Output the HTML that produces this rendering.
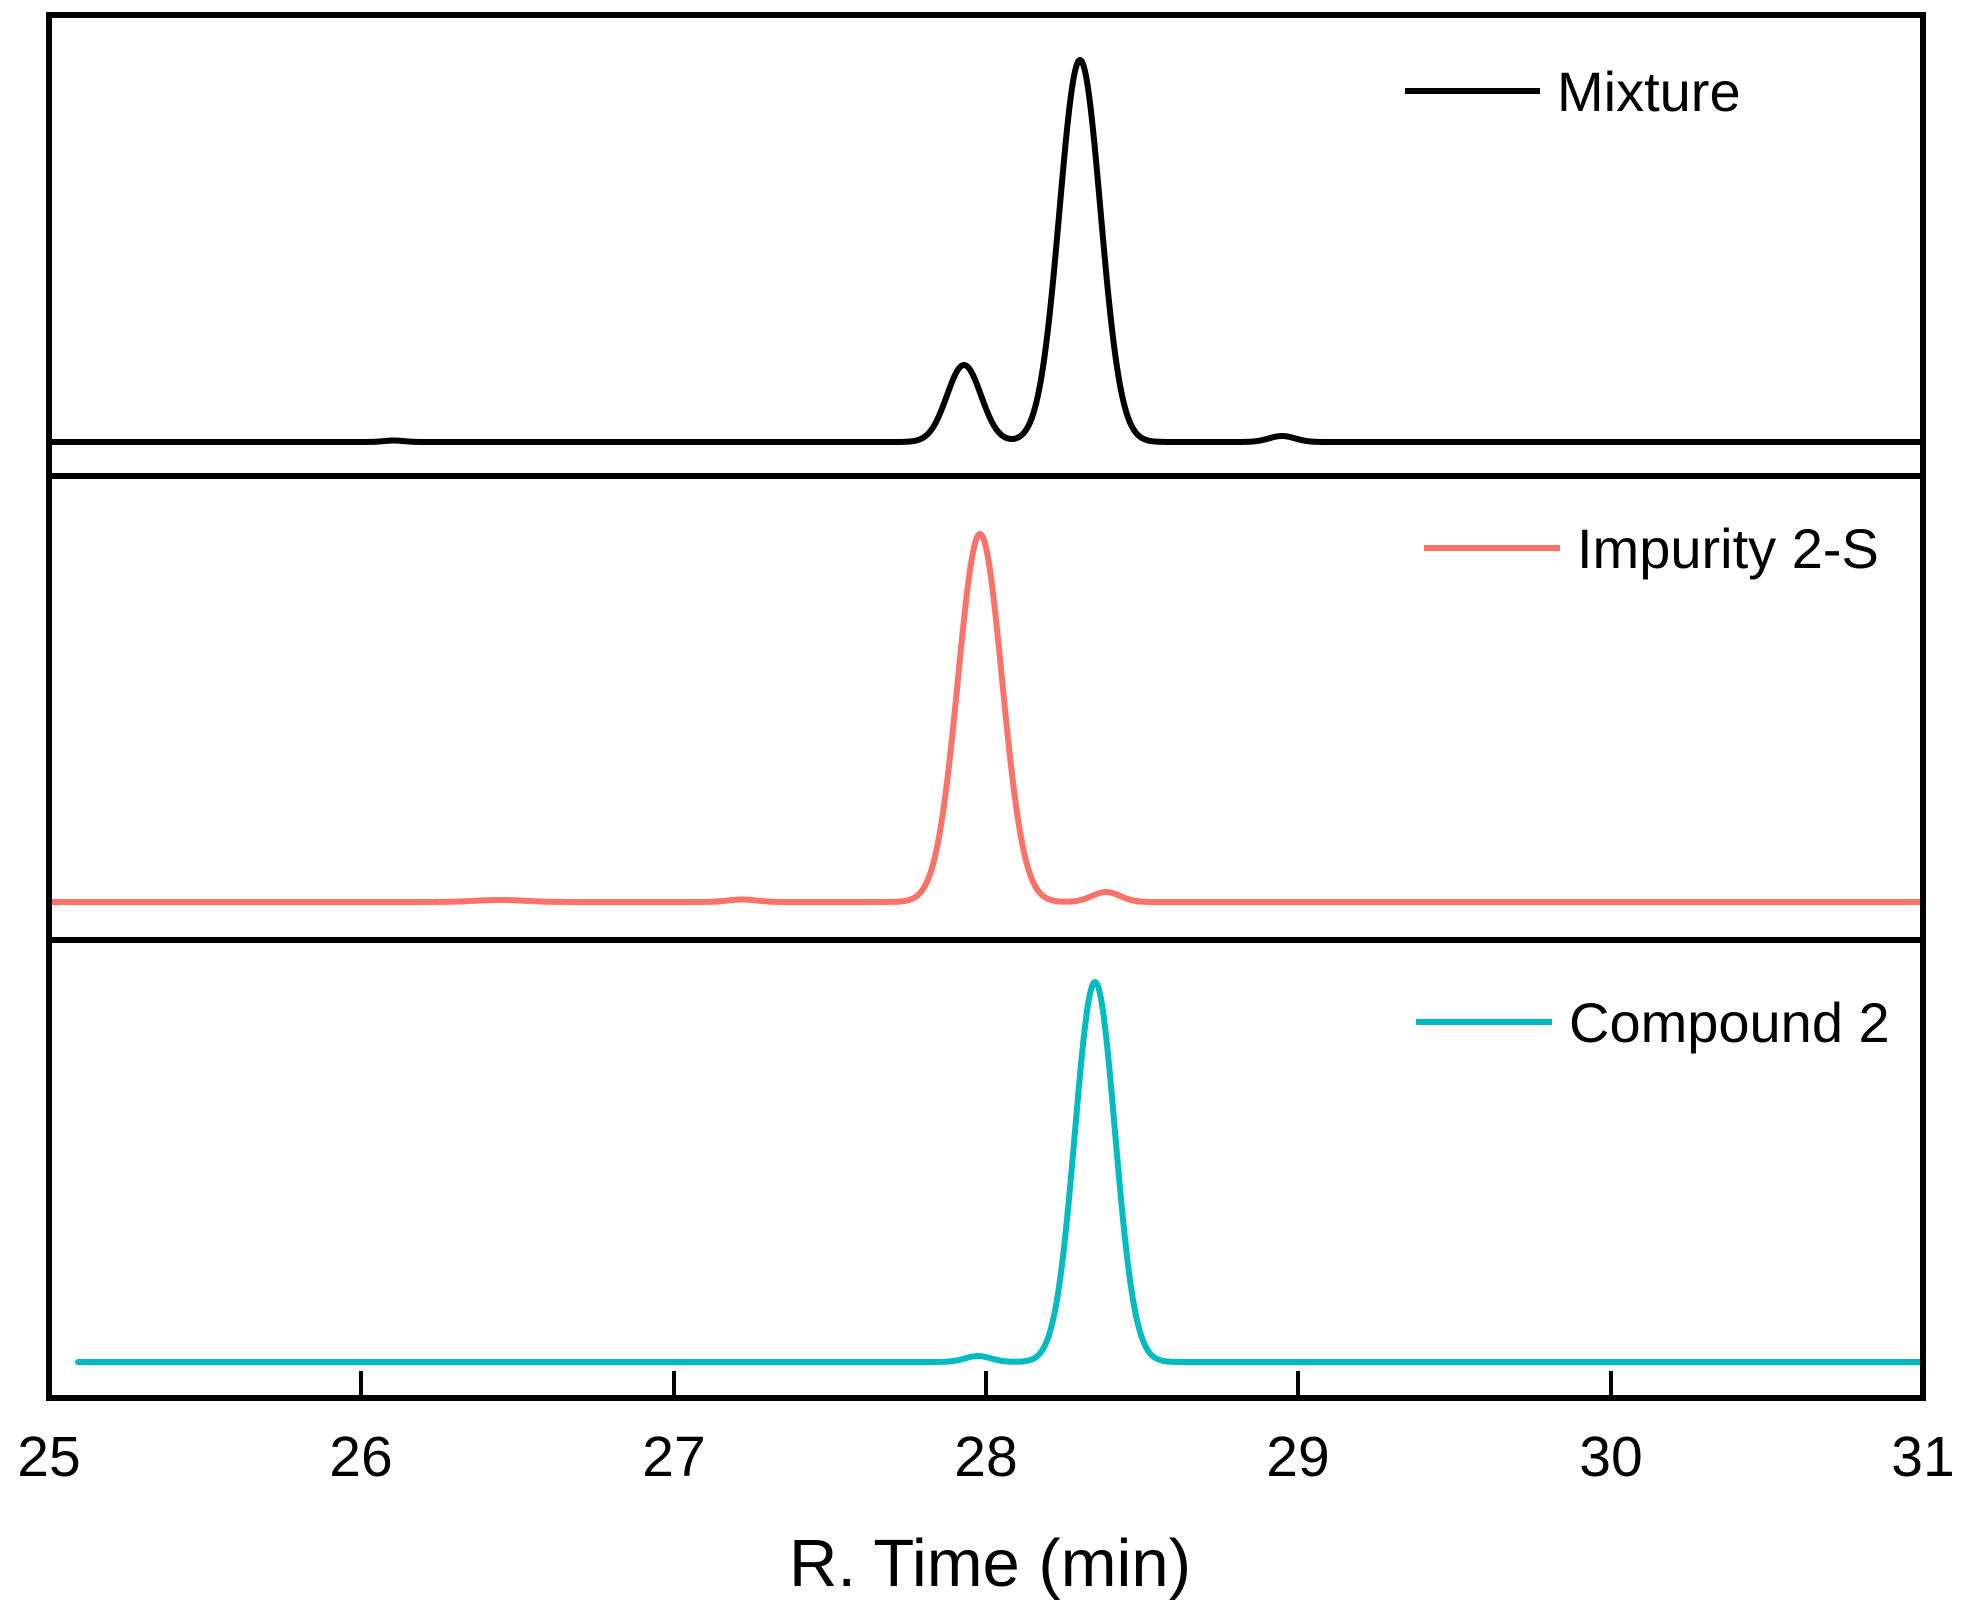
<!DOCTYPE html>
<html><head><meta charset="utf-8"><style>html,body{margin:0;padding:0;background:#fff}svg{display:block}</style></head>
<body>
<svg width="1966" height="1605" viewBox="0 0 1966 1605" xmlns="http://www.w3.org/2000/svg" font-family="Liberation Sans, sans-serif">
<rect x="0" y="0" width="1966" height="1605" fill="#fff"/>
<path id="p1" fill="none" stroke="#000" stroke-width="6" stroke-linejoin="round"/>
<path id="p2" fill="none" stroke="#fa7268" stroke-width="6" stroke-linejoin="round"/>
<path id="p3" fill="none" stroke="#00bcc0" stroke-width="6" stroke-linejoin="round" stroke-linecap="round"/>
<rect x="49" y="15" width="1874" height="1383" fill="none" stroke="#000" stroke-width="6"/>
<line x1="49" y1="476" x2="1923" y2="476" stroke="#000" stroke-width="6"/>
<line x1="49" y1="940" x2="1923" y2="940" stroke="#000" stroke-width="6"/>
<g stroke="#000" stroke-width="4">
<line x1="361" y1="1398" x2="361" y2="1371"/><line x1="674" y1="1398" x2="674" y2="1371"/>
<line x1="986" y1="1398" x2="986" y2="1371"/><line x1="1298" y1="1398" x2="1298" y2="1371"/>
<line x1="1611" y1="1398" x2="1611" y2="1371"/>
</g>
<g font-size="57" text-anchor="middle" fill="#000">
<text x="49" y="1476">25</text><text x="361" y="1476">26</text><text x="674" y="1476">27</text>
<text x="986" y="1476">28</text><text x="1298" y="1476">29</text><text x="1611" y="1476">30</text><text x="1923" y="1476">31</text>
</g>
<text x="990" y="1586" font-size="67" text-anchor="middle">R. Time (min)</text>
<line x1="1405" y1="91" x2="1540" y2="91" stroke="#000" stroke-width="6"/>
<text x="1557" y="111" font-size="56">Mixture</text>
<line x1="1424" y1="548" x2="1560" y2="548" stroke="#fa7268" stroke-width="6"/>
<text x="1577" y="568" font-size="56">Impurity 2-S</text>
<line x1="1416" y1="1022" x2="1552" y2="1022" stroke="#00bcc0" stroke-width="6"/>
<text x="1569" y="1042" font-size="56">Compound 2</text>
</svg>
<script>
function g(x,c,s){return Math.exp(-((x-c)*(x-c))/(2*s*s));}
function mk(id,x0,base,peaks){var d="";for(var x=x0;x<=1920;x+=1){var y=base;peaks.forEach(function(p){y-=p[1]*g(x,p[0],p[2]);});d+=(x==x0?"M":"L")+x+" "+y.toFixed(2);}document.getElementById(id).setAttribute("d",d);}
mk("p1",49,442,[[1080,382,20.5],[964,77,17],[1282,6,13],[394,1.5,10]]);
mk("p2",49,902,[[980,368,22],[1106,10,14],[742,2.5,14],[500,2,25]]);
mk("p3",78,1362,[[1095,380,20],[978,6,13]]);
</script>
</body></html>
